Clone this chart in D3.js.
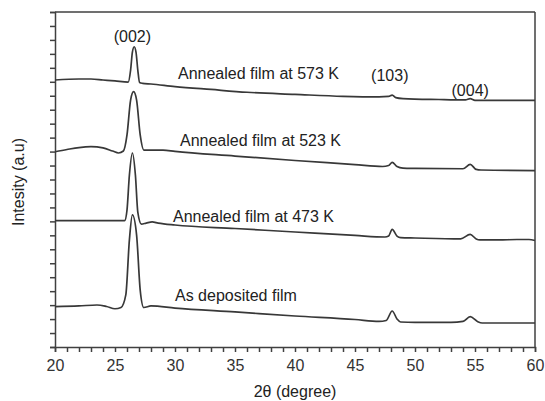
<!DOCTYPE html>
<meta charset="utf-8">
<title>XRD patterns</title>
<style>
body { margin: 0; background: #fff; font-family: "Liberation Sans", Arial, sans-serif; }
.axis path, .axis line { stroke: #404040; stroke-width: 1.5; }
.axis text { fill: #333; font-size: 16px; font-family: "Liberation Sans", Arial, sans-serif; }
.trace { fill: none; stroke: #383838; stroke-width: 1.7; }
.lbl { fill: #222; font-size: 16px; }
</style>
<svg width="545" height="401"></svg>
<script src="https://d3js.org/d3.v7.min.js"></script>
<script>
// 2theta (deg) and intensity (a.u.)
const asDepX = [20, 22, 23.5, 24.3, 25, 25.5, 25.9, 26.2, 26.45, 26.8, 27.1, 27.4, 28, 30, 35, 40, 45, 47, 47.6, 48.1, 48.5, 48.8, 50, 53, 54, 54.6, 55.2, 55.6, 60];
const asDepY = [28.9, 29.4, 30.1, 29.0, 27.4, 28.3, 37.3, 76.7, 94.6, 80.2, 40.8, 28.3, 29.4, 27.9, 25.1, 22.2, 19.7, 18.3, 19.0, 25.8, 20.1, 17.9, 17.6, 17.6, 18.3, 21.7, 18.3, 17.2, 17.2];

const k473X = [20, 23, 25, 25.8, 26.0, 26.2, 26.45, 26.7, 26.9, 27.2, 27.6, 28.1, 28.6, 30, 35, 40, 45, 47.5, 47.8, 48.1, 48.5, 48.8, 50, 53.8, 54.6, 55.1, 55.4, 57, 58.5, 59.5, 60];
const k473Y = [90.5, 90.6, 90.6, 90.5, 98.1, 123.2, 139.0, 123.2, 96.7, 88.1, 88.8, 89.6, 88.8, 87.4, 84.9, 82.4, 79.9, 78.8, 79.5, 84.2, 79.5, 78.4, 78.1, 77.4, 80.7, 77.4, 76.7, 76.7, 77.0, 77.0, 76.3];

const k523X = [20, 21, 22, 23, 24, 24.8, 25.3, 25.7, 26.0, 26.3, 26.55, 26.8, 27.1, 27.4, 28, 29, 30, 35, 40, 45, 47.3, 47.8, 48.1, 48.5, 49, 50, 54, 54.6, 55.1, 55.5, 60];
const k523Y = [139.9, 141.5, 142.9, 143.5, 142.6, 140.4, 139.0, 140.4, 151.9, 176.9, 182.9, 176.9, 151.9, 141.1, 141.1, 141.1, 140.1, 136.8, 133.6, 130.7, 129.3, 130.0, 132.3, 129.3, 128.2, 128.0, 127.7, 130.9, 127.2, 126.8, 126.4];

const k573X = [20, 22, 23, 24, 25, 26.1, 26.3, 26.45, 26.6, 26.75, 26.9, 27.05, 27.3, 28, 30, 33, 36, 40, 44, 47, 47.8, 48.1, 48.4, 49, 52, 54.2, 54.6, 55, 60];
const k573Y = [191.3, 192.0, 192.0, 191.3, 190.6, 189.8, 198.4, 211.3, 215.1, 211.3, 198.4, 189.5, 188.9, 188.4, 186.6, 184.5, 182.5, 181.0, 179.6, 179.2, 179.5, 180.5, 178.7, 178.0, 177.3, 177.0, 177.9, 176.7, 176.7];

const series = [
  { name: "As deposited film", x: asDepX, y: asDepY, lx: 175, ly: 301 },
  { name: "Annealed film at 473 K", x: k473X, y: k473Y, lx: 173, ly: 222 },
  { name: "Annealed film at 523 K", x: k523X, y: k523Y, lx: 180, ly: 146 },
  { name: "Annealed film at 573 K", x: k573X, y: k573Y, lx: 178, ly: 79 }
];

const peakLabels = ["(002)", "(103)", "(004)"];
const peakPos = [26.7, 47.9, 54.6];
const peakLy = [42, 81, 96];

const xMinor = d3.range(20, 61, 1);
const yTicks = d3.range(0, 241, 10);

const svg = d3.select("svg");
const m = { left: 55, right: 535, top: 12, bottom: 347 };
const x = d3.scaleLinear().domain([20, 60]).range([m.left, m.right]);
const y = d3.scaleLinear().domain([0, 240]).range([m.bottom, m.top]);

// box
svg.append("line").attr("x1", m.left).attr("x2", m.right).attr("y1", m.top).attr("y2", m.top)
  .attr("stroke", "#404040").attr("stroke-width", 1.5);
svg.append("line").attr("x1", m.right).attr("x2", m.right).attr("y1", m.top).attr("y2", m.bottom)
  .attr("stroke", "#404040").attr("stroke-width", 1.5);

svg.append("g").attr("class", "axis").attr("transform", `translate(0,${m.bottom})`)
  .call(d3.axisBottom(x).tickValues(xMinor).tickSizeOuter(0).tickSize(5).tickPadding(8)
    .tickFormat(d => d % 5 === 0 ? d : ""));

svg.append("g").attr("class", "axis").attr("transform", `translate(${m.left},0)`)
  .call(d3.axisLeft(y).tickValues(yTicks).tickSizeOuter(0).tickSize(5).tickFormat(""));

const line = d3.line().x(d => x(d[0])).y(d => y(d[1])).curve(d3.curveMonotoneX);

series.forEach(s => {
  const pts = s.x.map((v, i) => [v, s.y[i]]);
  svg.append("path").attr("class", "trace").attr("d", line(pts));
  svg.append("text").attr("class", "lbl").attr("x", s.lx).attr("y", s.ly).text(s.name);
});

peakLabels.forEach((t, i) => {
  svg.append("text").attr("class", "lbl").attr("text-anchor", "middle")
    .attr("x", x(peakPos[i]) - (i === 0 ? 3 : 0)).attr("y", peakLy[i]).text(t);
});

svg.append("text").attr("class", "lbl").attr("text-anchor", "middle")
  .attr("x", (m.left + m.right) / 2).attr("y", 397).text("2θ (degree)");

svg.append("text").attr("class", "lbl").attr("text-anchor", "middle")
  .attr("transform", "translate(24,182) rotate(-90)").text("Intesity (a.u)");
</script>
